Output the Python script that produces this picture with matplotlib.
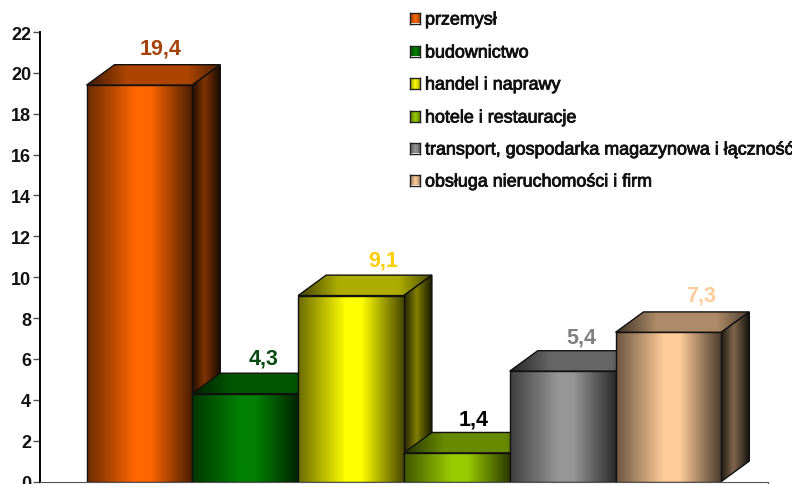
import numpy as np
import matplotlib
matplotlib.use("Agg")
import matplotlib.pyplot as plt
import matplotlib.patheffects as pe
from matplotlib.colors import to_rgb
from matplotlib.patches import Polygon

categories = ["przemysł", "budownictwo", "handel i naprawy", "hotele i restauracje",
              "transport, gospodarka magazynowa i łączność", "obsługa nieruchomości i firm"]
values = [19.4, 4.3, 9.1, 1.4, 5.4, 7.3]
value_labels = ["19,4", "4,3", "9,1", "1,4", "5,4", "7,3"]
bar_colors = ["#ff6600", "#008000", "#ffff00", "#99cc00", "#969696", "#ffcc99"]
label_colors = ["#a5420a", "#0b4a12", "#ffcc00", "#000000", "#808080", "#ffcc99"]
label_dx = [0.20, 0.17, 0.30, 0.16, 0.18, 0.31]
label_dy = [1.80, 1.75, 1.75, 1.65, 1.65, 1.85]
yticks = list(range(0, 23, 2))

W, H = 792, 485
X0 = 86.5
PX = 105.8
DEPTH_X = 28 / PX
DEPTH_Y = 1.0


def shade(color, stops, shades):
    t = np.linspace(0, 1, 256)
    k = np.interp(t, stops, shades)
    return (np.array(to_rgb(color))[None, None, :] * k[None, :, None]).clip(0, 1)


def face(ax, verts, color, stops, shades, z):
    xs = [v[0] for v in verts]
    ys = [v[1] for v in verts]
    im = ax.imshow(shade(color, stops, shades), extent=(min(xs), max(xs), min(ys), max(ys)),
                   aspect="auto", zorder=z, interpolation="bilinear")
    p = Polygon(verts, closed=True, fc="none", ec="#111111", lw=1.0, zorder=z + 0.1)
    ax.add_patch(p)
    im.set_clip_path(p)


def bar3d(ax, x0, v, color, z):
    x1 = x0 + 1
    top = [(x0, v), (x1, v), (x1 + DEPTH_X, v + DEPTH_Y), (x0 + DEPTH_X, v + DEPTH_Y)]
    side = [(x1, 0), (x1 + DEPTH_X, DEPTH_Y), (x1 + DEPTH_X, v + DEPTH_Y), (x1, v)]
    front = [(x0, 0), (x1, 0), (x1, v), (x0, v)]
    face(ax, top, color, [0, 0.3, 0.75, 1], [0.25, 0.68, 0.68, 0.3], z)
    face(ax, side, color, [0, 0.45, 1], [0.12, 0.5, 0.1], z + 0.2)
    face(ax, front, color, [0, 0.45, 0.6, 1], [0.42, 1, 1, 0.28], z + 0.4)


fig = plt.figure(figsize=(W / 100, H / 100), dpi=100)
ax = fig.add_axes([39.5 / W, (H - 482.5) / H, (W - 39.5) / W, 449.5 / H])
plt.rcParams["font.family"] = ["Liberation Sans", "DejaVu Sans"]

for i, (v, c) in enumerate(zip(values, bar_colors)):
    bar3d(ax, i, v, c, 3 + i)
    ax.text(i + 0.5 + label_dx[i], v + label_dy[i], value_labels[i], color=label_colors[i],
            family="Liberation Sans", weight="bold", fontsize=15.5, ha="center", va="center", zorder=20)

ax.set_xlim((39.5 - X0) / PX, (W - X0) / PX)
ax.set_ylim(0, 22)
ax.set_yticks(yticks)
ax.set_yticklabels([str(t) for t in yticks], family="Liberation Sans", weight="bold", fontsize=13, color="#111111")
ax.tick_params(axis="y", length=5, width=1, color="#555555", pad=1)
ax.set_xticks([(768 - X0) / PX])
ax.set_xticklabels([""])
ax.tick_params(axis="x", length=4, width=1, color="#777777")
for s in ["top", "right"]:
    ax.spines[s].set_visible(False)
ax.spines["left"].set_linewidth(1.4)
ax.spines["left"].set_color("#000000")
ax.spines["bottom"].set_color("#555555")
ax.spines["bottom"].set_bounds((39.5 - X0) / PX, (768 - X0) / PX)
ax.patch.set_visible(False)

# legend, laid out by hand so the rows keep their wide spacing
leg_y = [19, 52, 84, 117, 149, 181]
for name, c, py in zip(categories, bar_colors, leg_y):
    fx = 425 / W
    fy = 1 - py / H
    fig.text(fx, fy - 2 / H, name, family="Liberation Sans", fontsize=12.9, color="#111111", va="center", ha="left",
             path_effects=[pe.withStroke(linewidth=0.6, foreground="#111111")])
    sw = fig.add_axes([410 / W, fy - 5.5 / H, 10 / W, 11 / H])
    sw.imshow(shade(c, [0, 0.5, 1], [0.6, 1, 0.6]), aspect="auto", extent=(0, 1, 0, 1))
    sw.set_xticks([])
    sw.set_yticks([])
    for s in sw.spines.values():
        s.set_linewidth(1.0)
        s.set_color("#222222")

fig.savefig("out.png", dpi=100)
